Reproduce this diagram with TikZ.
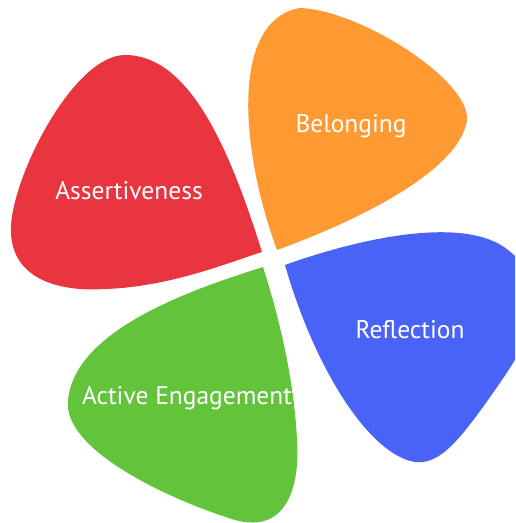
\documentclass[tikz,border=0pt]{standalone}
\usepackage{fontspec}
\setmainfont{PT Sans}
\usepackage{tikz}
\definecolor{petalred}{HTML}{E8353F}
\definecolor{petalorange}{HTML}{FF9A33}
\definecolor{petalblue}{HTML}{4863F6}
\definecolor{petalgreen}{HTML}{63C43B}
\tikzset{
	petal/.style args = {#1}{fill=#1, draw=none},
	petal/.default = petalred,
	petaltext/.style = {text=white, font=\fontsize{14.5}{16}\selectfont, inner sep=0pt},
}
\begin{document}
\begin{tikzpicture}[x=0.02cm, y=-0.02cm]
				\useasboundingbox (0,0) rectangle (515,523);
				\clip (0,0) rectangle (515,523);
				% red petal
				\fill[petal=petalred] (262,252) .. controls (230,150) and (190,55) .. (125,55)
					.. controls (75,55) and (15,170) .. (11,225)
					.. controls (8,280) and (60,292) .. (105,289)
					.. controls (170,287) and (230,262) .. (262,252) -- cycle;
				% orange petal
				\fill[petal=petalorange] (277,250) .. controls (240,150) and (230,20) .. (300,8)
					.. controls (360,10) and (470,80) .. (467,120)
					.. controls (460,170) and (360,220) .. (277,250) -- cycle;
				% blue petal
				\fill[petal=petalblue] (285,265) .. controls (360,238) and (465,215) .. (508,250)
					.. controls (560,290) and (530,340) .. (495,390)
					.. controls (460,440) and (440,465) .. (415,462)
					.. controls (370,455) and (315,370) .. (285,265) -- cycle;
				% green petal
				\fill[petal=petalgreen] (263,267) .. controls (190,290) and (75,330) .. (68,400)
					.. controls (62,450) and (170,500) .. (235,520)
					.. controls (290,535) and (300,480) .. (297,440)
					.. controls (294,380) and (280,320) .. (263,267) -- cycle;
				\node[petaltext] (assert) at (129,191) {Assertiveness};
				\node[petaltext] (belong) at (351,126) {Belonging};
				\node[petaltext] (reflect) at (410,330) {Reflection};
				\node[petaltext] (engage) at (187,398) {Active Engagement};
			\end{tikzpicture}
\end{document}
